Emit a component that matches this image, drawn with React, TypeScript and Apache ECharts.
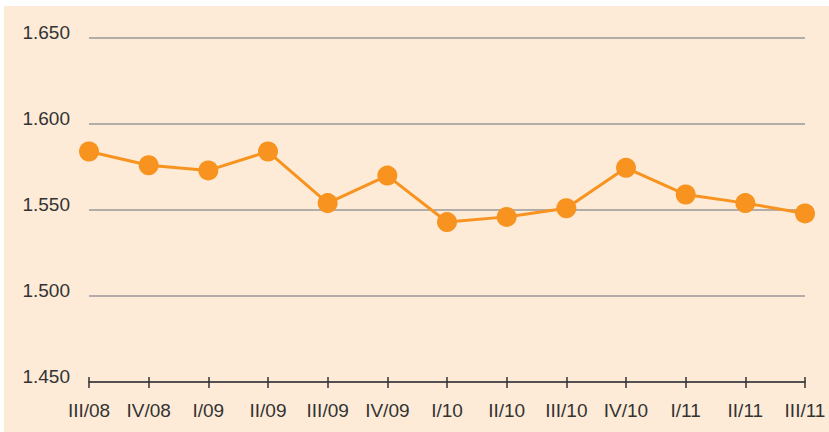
import React, { useEffect, useRef } from "react";
import * as echarts from "echarts";

const categories = ["III/08", "IV/08", "I/09", "II/09", "III/09", "IV/09", "I/10", "II/10", "III/10", "IV/10", "I/11", "II/11", "III/11"];
const values = [1584, 1576, 1573, 1584, 1554, 1570, 1543, 1546, 1551, 1574.5, 1559, 1554, 1548];
const yMin = 1450;
const yMax = 1650;
const yStep = 50;

export default function App() {
  const ref = useRef<HTMLDivElement>(null);
  useEffect(() => {
    if (!ref.current) return;
    const chart = echarts.init(ref.current, undefined, { renderer: "svg" });
    const font = "'Liberation Sans', Arial, sans-serif";
    chart.setOption({
      animation: false,
      backgroundColor: "#ffffff",
      graphic: [
        { type: "rect", z: -10, shape: { x: 4, y: 6, width: 825, height: 426 }, style: { fill: "#fdebd7" } },
      ],
      grid: { left: 89, right: 24, top: 38, bottom: 50, containLabel: false },
      xAxis: [
        {
          type: "category",
          data: categories,
          boundaryGap: false,
          axisLine: { show: true, lineStyle: { color: "#333", width: 1.5 } },
          axisTick: { show: true, inside: false, length: 6, lineStyle: { color: "#333", width: 1.5 } },
          axisLabel: { color: "#333", fontSize: 19, fontFamily: font, margin: 19, interval: 0 },
          splitLine: { show: false },
        },
        {
          type: "category",
          data: categories,
          position: "bottom",
          boundaryGap: false,
          axisLine: { show: false },
          axisTick: { show: true, inside: true, length: 5, lineStyle: { color: "#333", width: 1.5 } },
          axisLabel: { show: false },
          splitLine: { show: false },
        },
      ],
      yAxis: {
        type: "value",
        min: yMin,
        max: yMax,
        interval: yStep,
        axisLine: { show: false },
        axisTick: { show: false },
        axisLabel: {
          color: "#333",
          fontSize: 19,
          fontFamily: font,
          margin: 19,
          verticalAlign: "bottom",
          lineHeight: 12,
          formatter: (v: number) => (v / 1000).toFixed(3),
        },
        splitLine: { show: true, lineStyle: { color: "#999", width: 1.5 } },
      },
      series: [
        {
          type: "line",
          data: values,
          xAxisIndex: 0,
          symbol: "circle",
          symbolSize: 20,
          lineStyle: { color: "#f7931e", width: 3 },
          itemStyle: { color: "#f7931e" },
          z: 5,
        },
      ],
    });
    return () => chart.dispose();
  }, []);
  return <div ref={ref} style={{ position: "fixed", left: 0, top: 0, width: 829, height: 432 }} />;
}
